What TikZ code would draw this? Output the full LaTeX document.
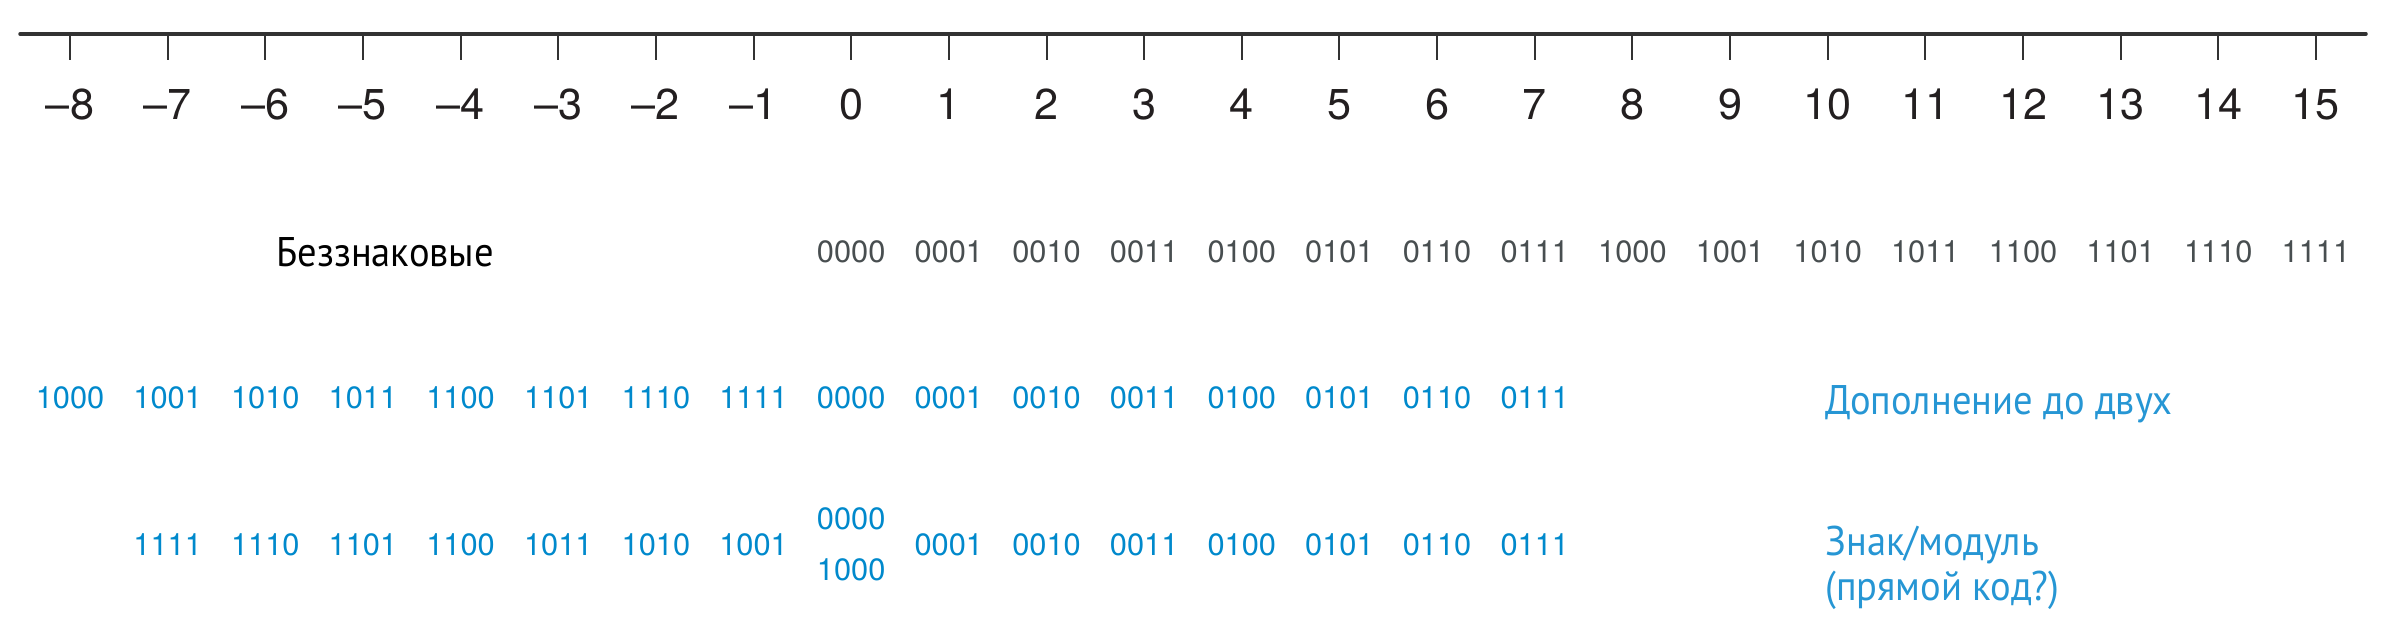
\documentclass[tikz,border=0pt]{standalone}
\usepackage{fontspec}
\setmainfont{TeX Gyre Heros}
\newfontfamily\labfont[FakeStretch=0.93]{PT Sans}
\definecolor{axisc}{RGB}{50,50,50}
\definecolor{numc}{RGB}{35,31,32}
\definecolor{grayc}{RGB}{72,78,80}
\definecolor{bluec}{RGB}{0,137,204}
\definecolor{bluelab}{RGB}{38,150,212}
\begin{document}
\begin{tikzpicture}[x=0.5pt,y=-0.5pt,
  axisline/.style={line width=1.75pt, draw=axisc, line cap=round},
  tickline/.style={line width=1pt, draw=axisc},
  axisnum/.style={font=\fontsize{21.6}{24}\selectfont, text=numc, anchor=base, inner sep=0},
  unsig/.style={font=\fontsize{15.4}{18}\selectfont, text=grayc, anchor=base, inner sep=0},
  codeb/.style={font=\fontsize{15.4}{18}\selectfont, text=bluec, anchor=base, inner sep=0},
  lab/.style={font=\labfont\fontsize{20.7}{24}\selectfont, anchor=base west, inner sep=0}]
\useasboundingbox (0,0) rectangle (2393,632);
\coordinate (L) at (20,34);
\coordinate (R) at (2366,34);
\draw[axisline] (L) -- (R);
\foreach \n in {-8,...,15} {
  \pgfmathsetmacro\xx{70+(\n+8)*97.65}
  \coordinate (top\n) at (\xx,34);
  \coordinate (bot\n) at (\xx,60);
  \draw[tickline] (top\n) -- (bot\n);
  \node[axisnum] (num\n) at (\xx,119) {\ifnum\n<0 –\the\numexpr-\n\relax\else\n\fi};
}
% unsigned
\node[lab, text=black] (unsl) at (276,266) {Беззнаковые};
\foreach \n/\c in {0/0000,1/0001,2/0010,3/0011,4/0100,5/0101,6/0110,7/0111,8/1000,9/1001,10/1010,11/1011,12/1100,13/1101,14/1110,15/1111} {
  \pgfmathsetmacro\xx{70+(\n+8)*97.65}
  \node[unsig] (u\n) at (\xx,262) {\c};
}
% two's complement
\foreach \n/\c in {-8/1000,-7/1001,-6/1010,-5/1011,-4/1100,-3/1101,-2/1110,-1/1111,0/0000,1/0001,2/0010,3/0011,4/0100,5/0101,6/0110,7/0111} {
  \pgfmathsetmacro\xx{70+(\n+8)*97.65}
  \node[codeb] (tc\n) at (\xx,408) {\c};
}
\node[lab, text=bluelab] (tcl) at (1825,414) {Дополнение до двух};
% sign/magnitude
\foreach \n/\c in {-7/1111,-6/1110,-5/1101,-4/1100,-3/1011,-2/1010,-1/1001,1/0001,2/0010,3/0011,4/0100,5/0101,6/0110,7/0111} {
  \pgfmathsetmacro\xx{70+(\n+8)*97.65}
  \node[codeb] (sm\n) at (\xx,555) {\c};
}
\node[codeb] (smpz) at (851.2,529) {0000};
\node[codeb] (smnz) at (851.2,580) {1000};
\node[lab, text=bluelab] (sml1) at (1825,555) {Знак/модуль};
\node[lab, text=bluelab] (sml2) at (1825,600) {(прямой код?)};
\end{tikzpicture}
\end{document}
